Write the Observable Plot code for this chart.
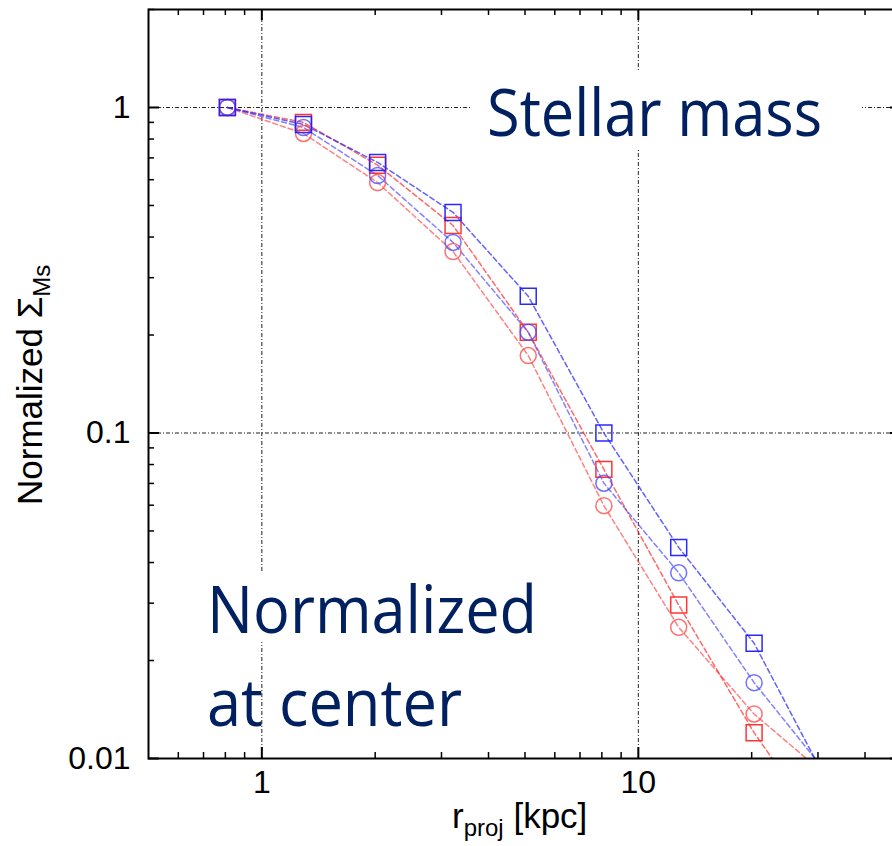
<!DOCTYPE html>
<html>
<head>
<meta charset="utf-8">
<script src="https://cdn.jsdelivr.net/npm/d3@7"></script>
<script src="https://cdn.jsdelivr.net/npm/@observablehq/plot@0.6"></script>
<style>
  html, body { margin: 0; padding: 0; background: #fff; overflow: hidden; }
  #chart { width: 892px; height: 846px; overflow: hidden; }
  #chart svg { max-width: none !important; display: block; }
</style>
</head>
<body>
<div id="chart"></div>
<script>
// ---- data ----
const rProj = [0.81, 1.29, 2.03, 3.22, 5.1, 8.1, 12.8, 20.3, 32.2];
const blueSquare = [1.0, 0.887, 0.678, 0.476, 0.263, 0.100, 0.0445, 0.0226, 0.0082];
const blueCircle = [1.0, 0.868, 0.618, 0.385, 0.204, 0.0701, 0.0372, 0.0171, 0.0088];
const redSquare  = [1.0, 0.900, 0.665, 0.434, 0.204, 0.0773, 0.0296, 0.0120, 0.0056];
const redCircle  = [1.0, 0.832, 0.588, 0.361, 0.173, 0.0598, 0.0253, 0.0137, 0.0087];
const nMarkers = 8; // last point lies below the frame (only its line segment shows)

const xMajor = [1, 10];
const xMinor = [0.6, 0.7, 0.8, 0.9, 2, 3, 4, 5, 6, 7, 8, 9, 20, 30, 40];
const yMajor = [0.01, 0.1, 1];
const yMinor = [0.02, 0.03, 0.04, 0.05, 0.06, 0.07, 0.08, 0.09, 0.2, 0.3, 0.4, 0.5, 0.6, 0.7, 0.8, 0.9, 2];
const yTickLabels = ["0.01", "0.1", "1"];
const xTickLabels = ["1", "10"];

const seriesDefs = [
  {name: "redCircle",  values: redCircle,  color: "#ff4d4d", symbol: "circle"},
  {name: "redSquare",  values: redSquare,  color: "#ff2a2a", symbol: "square"},
  {name: "blueCircle", values: blueCircle, color: "#4d4dff", symbol: "circle"},
  {name: "blueSquare", values: blueSquare, color: "#1f1fff", symbol: "square"}
];

// ---- layout ----
const W = 910, H = 846;
const mL = 148, mR = 9, mT = 9, mB = 88;
const frameW = W - mL - mR, frameH = H - mT - mB;

const lineMarks = [], dotMarks = [];
for (const s of seriesDefs) {
  const rows = rProj.map((x, i) => ({x, y: s.values[i], i}));
  lineMarks.push(Plot.line(rows, {
    x: "x", y: "y", stroke: s.color, strokeOpacity: 0.7, strokeWidth: 1.5,
    strokeDasharray: "5,3", clip: true
  }));
  dotMarks.push(Plot.dot(rows.filter(d => d.i < nMarkers), {
    x: "x", y: "y", symbol: s.symbol, r: s.symbol === "square" ? 9 : 8,
    stroke: s.color, strokeOpacity: s.symbol === "square" ? 0.95 : 0.8,
    strokeWidth: 1.5, fill: "none"
  }));
}

const gridStyle = {stroke: "#222", strokeWidth: 1, strokeDasharray: "4,2,1,2"};

const svg = Plot.plot({
  width: W, height: H,
  marginLeft: mL, marginRight: mR, marginTop: mT, marginBottom: mB,
  x: {type: "log", domain: [0.5, 50]},
  y: {type: "log", domain: [0.01, 2]},
  style: {fontFamily: "'Liberation Sans', Arial, sans-serif", fontSize: "32px", background: "#fff", color: "#000", maxWidth: "none"},
  marks: [
    Plot.ruleX(xMajor, gridStyle),
    Plot.ruleY([0.1, 1], gridStyle),
    ...lineMarks,
    ...dotMarks,
    // inward ticks: bottom & top
    Plot.ruleX(xMajor, {stroke: "#000", strokeWidth: 2, insetTop: frameH - 11}),
    Plot.ruleX(xMinor, {stroke: "#000", strokeWidth: 1.5, insetTop: frameH - 6}),
    Plot.ruleX(xMajor, {stroke: "#000", strokeWidth: 2, insetBottom: frameH - 11}),
    Plot.ruleX(xMinor, {stroke: "#000", strokeWidth: 1.5, insetBottom: frameH - 6}),
    // inward ticks: left
    Plot.ruleY(yMajor, {stroke: "#000", strokeWidth: 2, insetRight: frameW - 11}),
    Plot.ruleY(yMinor, {stroke: "#000", strokeWidth: 1.5, insetRight: frameW - 6}),
    // inward ticks: right (just outside the visible window)
    Plot.ruleY(yMajor, {stroke: "#000", strokeWidth: 2, insetLeft: frameW - 11}),
    Plot.ruleY(yMinor, {stroke: "#000", strokeWidth: 1.5, insetLeft: frameW - 6}),
    Plot.frame({stroke: "#000", strokeWidth: 2}),
    Plot.axisX(xMajor, {anchor: "bottom", tickSize: 0, tickPadding: 12, label: null,
      tickFormat: d => xTickLabels[xMajor.indexOf(d)], fontSize: 32}),
    Plot.axisY(yMajor, {anchor: "left", tickSize: 0, tickPadding: 18, label: null,
      tickFormat: d => yTickLabels[yMajor.indexOf(d)], fontSize: 32})
  ]
});
svg.style.maxWidth = "none";
document.getElementById("chart").appendChild(svg);

// ---- axis titles and annotations ----
const s = d3.select(svg);
const axisFont = "'Liberation Sans', Arial, sans-serif";

// y-axis title: Normalized Σ_Ms (rotated)
const yt = s.append("text")
  .attr("transform", "translate(42,505) rotate(-90)")
  .attr("font-family", axisFont).attr("font-size", 35).attr("fill", "#000")
  .attr("text-anchor", "start");
yt.append("tspan").text("Normalized Σ");
yt.append("tspan").attr("font-size", 24).attr("dy", 8).text("Ms");

// x-axis title: r_proj [kpc]
const xt = s.append("text")
  .attr("x", 452).attr("y", 828)
  .attr("font-family", axisFont).attr("font-size", 35).attr("fill", "#000")
  .attr("text-anchor", "start");
xt.append("tspan").text("r");
xt.append("tspan").attr("font-size", 24).attr("dy", 8).text("proj");
xt.append("tspan").attr("dy", -8).text(" [kpc]");

// annotation boxes (white background, as in the source)
const annFont = "'Open Sans', 'Noto Sans', sans-serif";
const navy = "#002060";
s.append("rect").attr("x", 470).attr("y", 70).attr("width", 392).attr("height", 80).attr("fill", "#fff");
s.append("rect").attr("x", 200).attr("y", 572).attr("width", 345).attr("height", 70).attr("fill", "#fff");

function ann(text, x, y, len) {
  s.append("text").attr("x", x).attr("y", y)
    .attr("font-family", annFont).attr("font-size", 66).attr("fill", navy)
    .attr("text-anchor", "start")
    .attr("textLength", len).attr("lengthAdjust", "spacingAndGlyphs")
    .text(text);
}
ann("Stellar mass", 487, 136, 335);
ann("Normalized", 207, 633, 330);
ann("at center", 207, 726, 255);
</script>
</body>
</html>
